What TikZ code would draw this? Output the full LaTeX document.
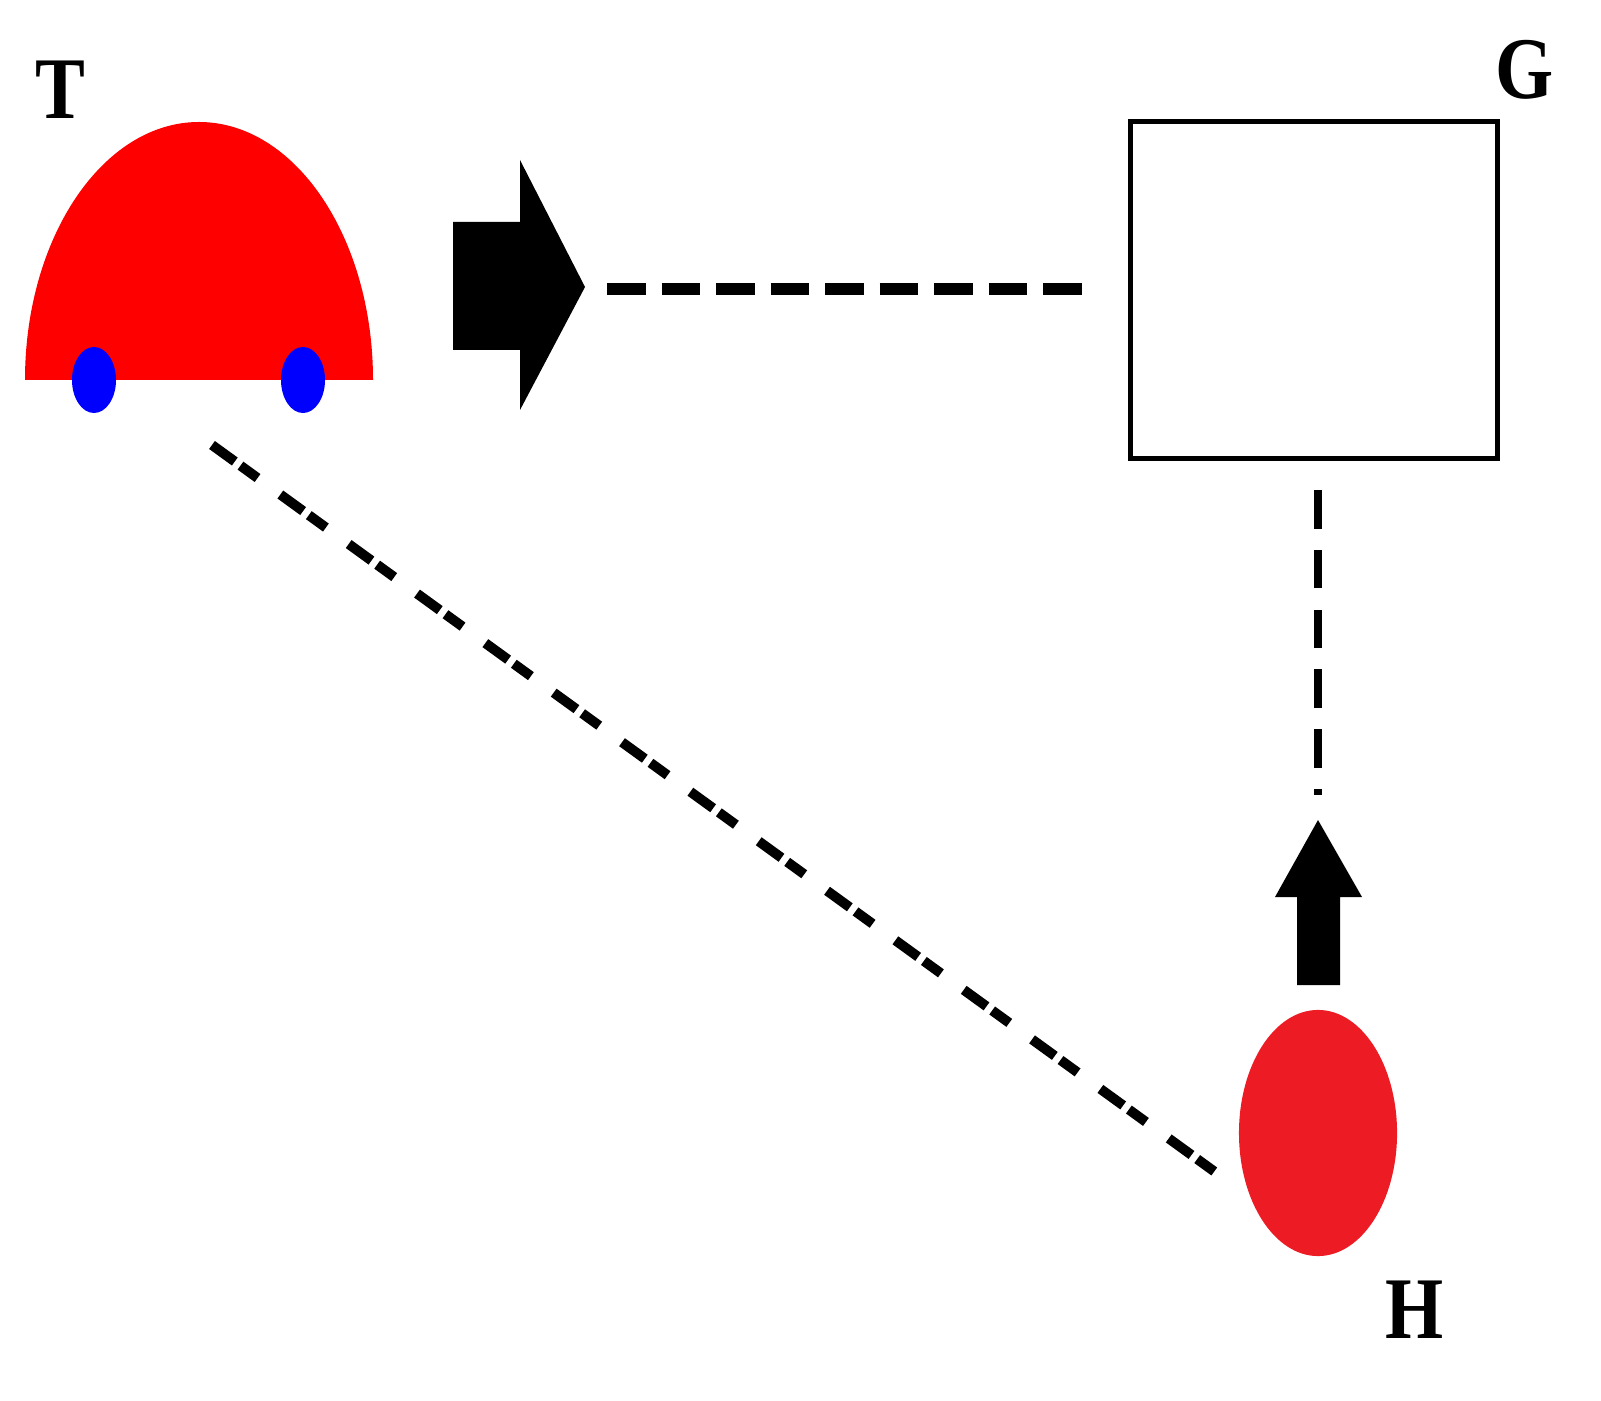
\documentclass[tikz,border=0pt]{standalone}
\usepackage{fontspec}
\setmainfont{Liberation Serif}
\usetikzlibrary{shapes.geometric}
\definecolor{hred}{HTML}{ED1C24}
\begin{document}
\begin{tikzpicture}[x=0.01cm,y=-0.01cm,
  lbl/.style={font=\bfseries\fontsize{25}{25}\selectfont,xscale=0.85},
  dsh/.style={line width=3.4pt,dash pattern=on 11pt off 4.5pt}]
\useasboundingbox (0,0) rectangle (1601,1401);
% car
\fill[red] (25,380) arc[start angle=180,end angle=360,x radius=174,y radius=258] -- cycle;
\node[ellipse,fill=blue,inner sep=0,minimum width=0.44cm,minimum height=0.66cm] (w1) at (94,380) {};
\node[ellipse,fill=blue,inner sep=0,minimum width=0.44cm,minimum height=0.66cm] (w2) at (303,380) {};
\node[lbl] (T) at (60,90) {T};
% big arrow
\fill (453,222) -- (520,222) -- (520,160) -- (585,287) -- (520,410) -- (520,350) -- (453,350) -- cycle;
\coordinate (a1) at (607,289);
% G box
\node[draw,line width=1.4pt,minimum width=3.66cm,minimum height=3.36cm,inner sep=0] (G) at (1314,290) {};
\node[lbl] (Gl) at (1525,70) {G};
\draw[dsh] (a1) -- (1095,289) coordinate (a2);
% H
\node[ellipse,fill=hred,inner sep=0,minimum width=1.58cm,minimum height=2.46cm] (H) at (1318,1133) {};
\node[lbl] (Hl) at (1415,1310) {H};
\fill (1297,985) -- (1297,897) -- (1275,897) -- (1318,820) -- (1362,897) -- (1340,897) -- (1340,985) -- cycle;
\coordinate (v1) at (1318,795);
\draw[line width=2.3pt,dash pattern=on 11pt off 6pt] (1318,490) -- (v1);
% diagonal
\coordinate (d1) at (212,445);
\coordinate (d2) at (1215,1172);
\draw[line width=2.8pt,dash pattern=on 8pt off 2pt on 6pt off 8pt] (d1) -- (d2);
\end{tikzpicture}
\end{document}
